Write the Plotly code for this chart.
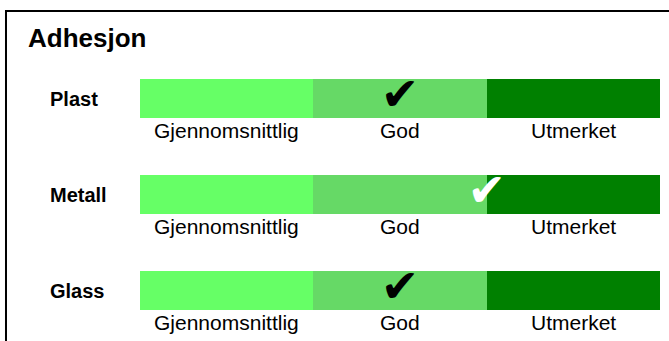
import plotly.graph_objects as go

# ---- data ----
title_text = "Adhesjon"
materials = ["Plast", "Metall", "Glass"]
levels = ["Gjennomsnittlig", "God", "Utmerket"]
level_span = [1, 1, 1]            # each level occupies one unit on the scale
ratings = [1.5, 2.0, 1.5]         # position of the check mark on the 0-3 scale
check_mark = "\u2714"

# ---- styles ----
level_colors = ["#66FF66", "#66D966", "#008000"]
FONT = "Arial, 'Liberation Sans', sans-serif"
row_pos = list(range(len(materials)))

fig = go.Figure()

for lvl, span, col in zip(levels, level_span, level_colors):
    fig.add_trace(go.Bar(
        y=row_pos, x=[span] * len(materials), orientation="h",
        width=0.4, marker=dict(color=col, line=dict(width=0)),
        name=lvl, hoverinfo="skip", showlegend=False,
    ))

# check marks
fig.add_trace(go.Scatter(
    x=ratings, y=row_pos, mode="text", text=[check_mark] * len(ratings),
    textposition="middle center",
    textfont=dict(family="DejaVu Sans", size=46,
                  color=["white" if r >= 2 else "black" for r in ratings]),
    hoverinfo="skip", showlegend=False,
))

annotations = []
cum = 0
centers = []
for span in level_span:
    centers.append(cum + span / 2)
    cum += span
for r in row_pos:
    for lvl, cx in zip(levels, centers):
        annotations.append(dict(
            x=cx, y=r + 0.33, xref="x", yref="y", text=lvl, showarrow=False,
            xanchor="center", yanchor="middle",
            font=dict(family=FONT, size=21, color="black"),
        ))
for r, m in zip(row_pos, materials):
    annotations.append(dict(
        x=-0.177, y=r, xref="paper", yref="y", text="<b>%s</b>" % m,
        showarrow=False, xanchor="left", yanchor="middle",
        font=dict(family=FONT, size=20, color="black"),
    ))
annotations.append(dict(
    x=-0.219, y=0.888, xref="paper", yref="paper", text="<b>%s</b>" % title_text,
    showarrow=False, xanchor="left", yanchor="middle",
    font=dict(family=FONT, size=26, color="black"),
))

fig.update_layout(
    width=669, height=341,
    margin=dict(l=140, r=9, t=0, b=0),
    paper_bgcolor="white", plot_bgcolor="white",
    barmode="stack", bargap=0,
    xaxis=dict(range=[0, 3], visible=False, fixedrange=True),
    yaxis=dict(range=[2.526, -1.026], visible=False, fixedrange=True),
    annotations=annotations,
    shapes=[dict(type="rect", xref="paper", yref="paper",
                 x0=-0.2577, x1=1.2, y0=-0.2, y1=0.9677,
                 line=dict(color="black", width=2), fillcolor="rgba(0,0,0,0)")],
)

fig.write_html("out.html", config={"displayModeBar": False},
               post_script="document.body.style.margin='0';document.body.style.overflow='hidden';")
